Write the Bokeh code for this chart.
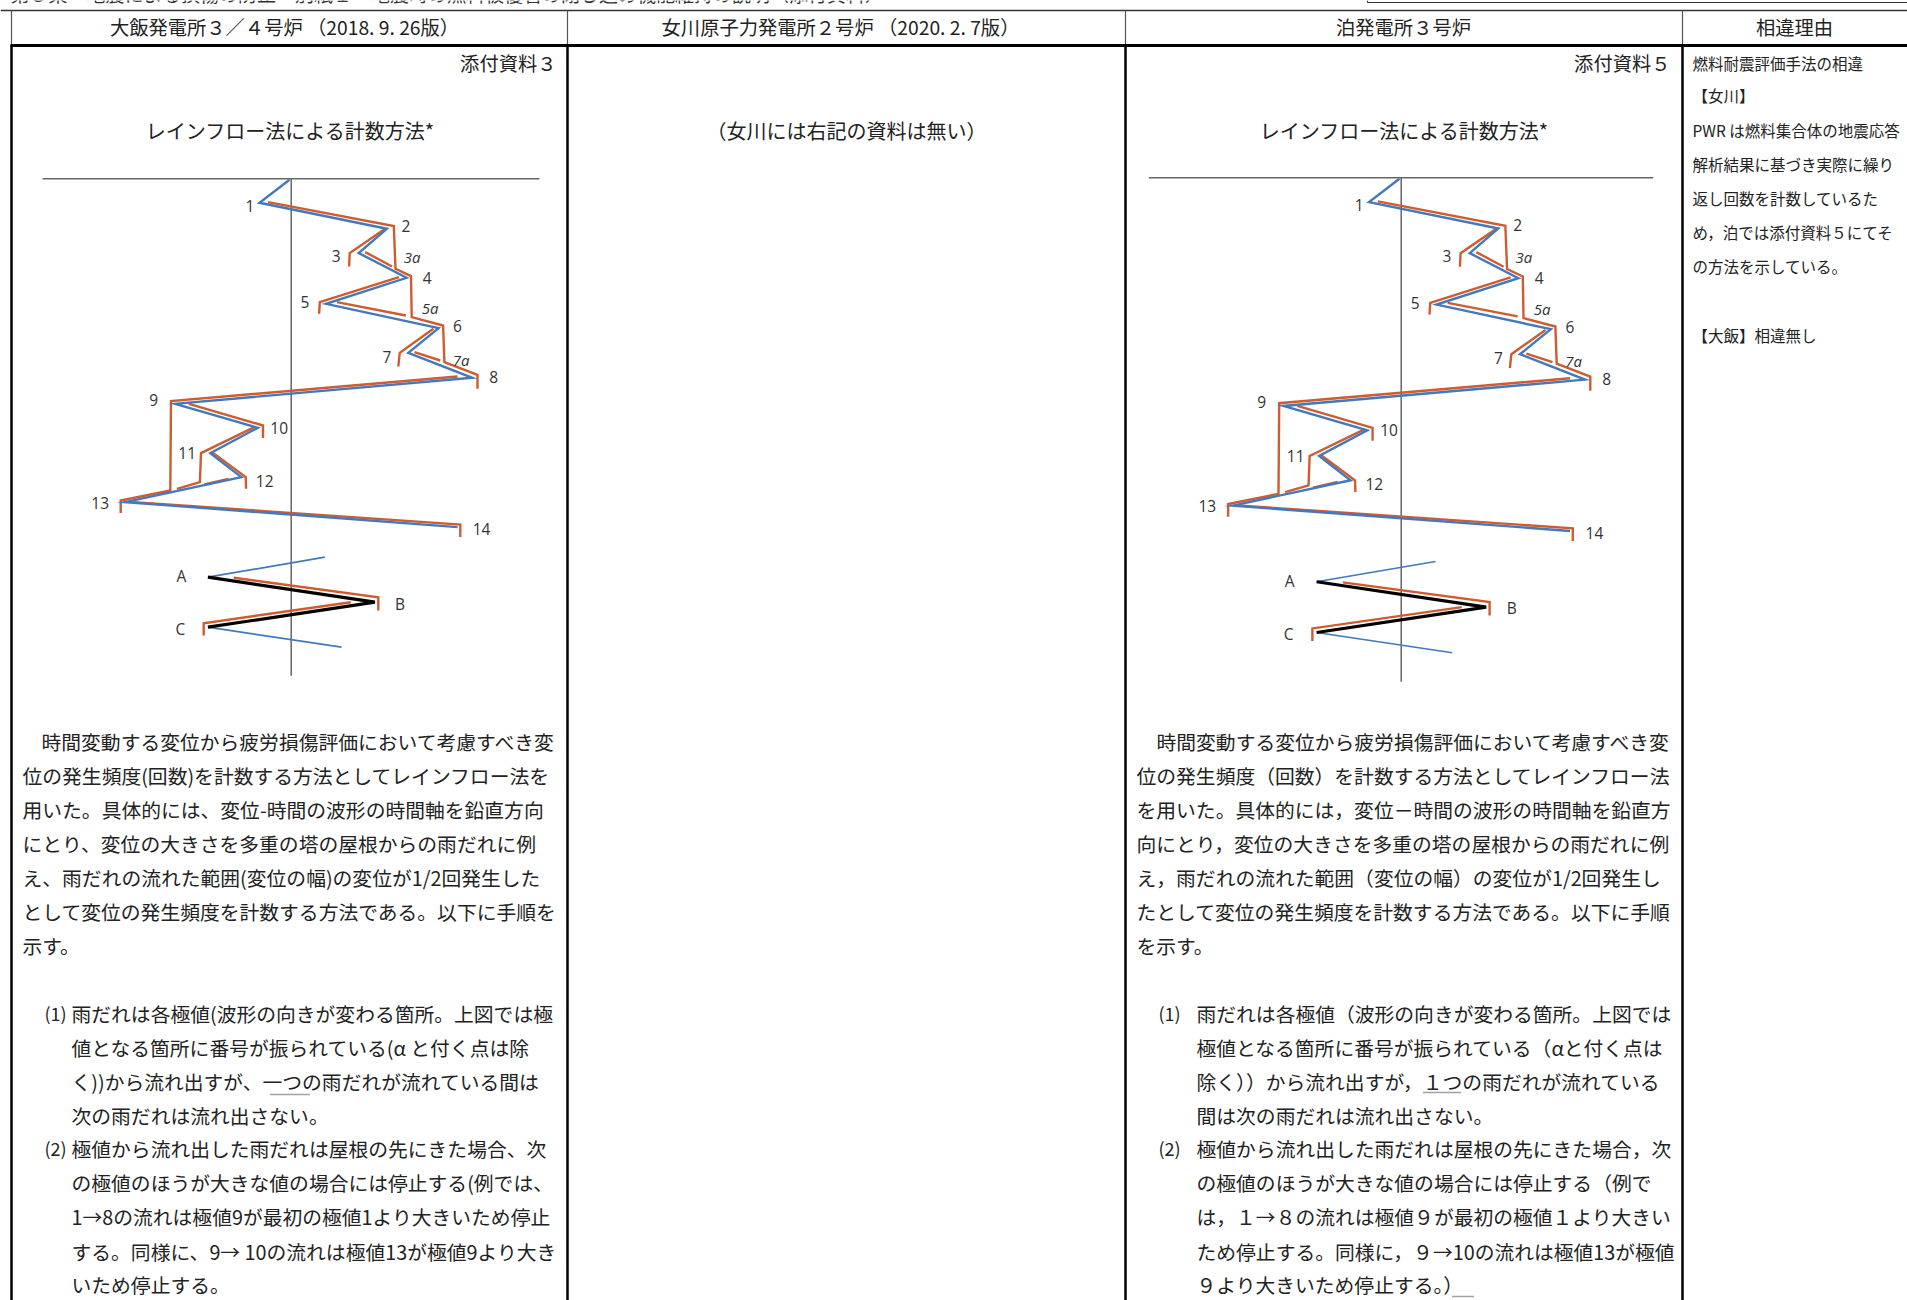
from bokeh.plotting import figure
from bokeh.models import Range1d, ColumnDataSource
from bokeh.core.properties import value
from bokeh.embed import file_html
from bokeh.resources import INLINE

# ---- rainflow waveform: displacement (right +) against time (down +)
wave_d = [-1.7, -31.7, 95.7, 67.5, 115.4, 34.8, 147.4, 117.1, 181.1, -116, -33.4, -80.9, -49.9, -166, 166.3]
wave_t = [1, 24, 50, 74.3, 99, 125, 149.3, 174, 199, 225, 249, 274.3, 298.3, 323.3, 348.3]

# ---- rain-drop flow paths (orange)
flow_d = [
    [-23.1, 102.6, 104.3, 119.8, 120.5, 151.9, 153.2, 186.3, 186.3],
    [94, 58.5, 57.9],
    [74, 100.9],
    [107.8, 28.6, 27.9],
    [45.8, 114.7],
    [142.2, 108.5, 107.1],
    [123.3, 149.1],
    [166.3, -120.2, -120.9, -170.5, -170.5],
    [-102.3, -28.2, -28.2],
    [-36.8, -90.2, -91.3, -114.3],
    [-79.2, -45.5, -45.1],
    [-62.7, -86.8],
    [-157.4, 169.1, 169.1],
    [-57.5, 87.1, 87.1],
    [59.6, -87.5, -87.5],
]
flow_t = [
    [23.3, 47.3, 90, 97.3, 138.3, 146.7, 183.3, 196, 210],
    [50, 74.3, 87.7],
    [73.3, 87.7],
    [98.3, 123.3, 135],
    [123.3, 136.7],
    [150, 174, 187.7],
    [173.3, 181.7],
    [197.7, 222.3, 311.7, 321.7, 334.3],
    [225, 246.7, 259.3],
    [248.3, 274.3, 303.3, 310],
    [273.3, 298.3, 310],
    [300, 305.7],
    [323.3, 345.7, 358.3],
    [399, 418.4, 431.7],
    [423.4, 444.4, 456.7],
]

# ---- lower A-B-C example
abc_blue_d = [[33.7, -83.3], [-83.3, 50.3]]
abc_blue_t = [[378.4, 398.4], [448.4, 468.4]]
abc_black_d = [-83.3, 83.7, -83.3]
abc_black_t = [398.4, 423.4, 448.4]

# ---- point labels
pt_labels = ["1", "2", "3", "4", "5", "6", "7", "8", "9", "10", "11", "12", "13", "14", "A", "B", "C"]
pt_d = [-41.3, 114.7, 45.1, 136, 13.8, 166.3, 95.7, 202.5, -137.4, -12, -104, -26.5, -191, 190.4, -109.8, 108.8, -110.9]
pt_t = [26.7, 46.7, 76.7, 99, 123.3, 146.7, 177.7, 198.3, 221, 249, 274, 302.3, 324, 350, 397.4, 424.7, 450]
alpha_labels = ["3a", "5a", "7a"]
alpha_d = [120.9, 138.8, 169.8]
alpha_t = [77.7, 129, 181]

# ---- document text (full-width forms written as escapes)
LP, RP, CM, SL, DS, SP = "\uFF08", "\uFF09", "\uFF0C", "\uFF0F", "\uFF0D", "\u3000"
N1, N2, N3, N4, N5, N8, N9 = "\uFF11", "\uFF12", "\uFF13", "\uFF14", "\uFF15", "\uFF18", "\uFF19"

page_title = f"第{N5}条{SP}地震による損傷の防止{SP}別紙{N1}{SP}地震時の燃料被覆管の閉じ込め機能維持の説明{LP}添付資料{RP}"
headers = [f"大飯発電所{N3}{SL}{N4}号炉 {LP}2018. 9. 26版{RP}",
           f"女川原子力発電所{N2}号炉 {LP}2020. 2. 7版{RP}",
           f"泊発電所{N3}号炉", "相違理由"]
header_x = [284, 840, 1403, 1794]
attach = [f"添付資料{N3}", f"添付資料{N5}"]
attach_x = [556, 1670]
titles = ["レインフロー法による計数方法*", f"{LP}女川には右記の資料は無い{RP}", "レインフロー法による計数方法*"]
titles_x = [290, 846, 1404]

ohi_lines = [
    "時間変動する変位から疲労損傷評価において考慮すべき変",
    "位の発生頻度(回数)を計数する方法としてレインフロー法を",
    "用いた。具体的には、変位-時間の波形の時間軸を鉛直方向",
    "にとり、変位の大きさを多重の塔の屋根からの雨だれに例",
    "え、雨だれの流れた範囲(変位の幅)の変位が1/2回発生した",
    "として変位の発生頻度を計数する方法である。以下に手順を",
    "示す。",
    "雨だれは各極値(波形の向きが変わる箇所。上図では極",
    "値となる箇所に番号が振られている(α と付く点は除",
    "く))から流れ出すが、一つの雨だれが流れている間は",
    "次の雨だれは流れ出さない。",
    "極値から流れ出した雨だれは屋根の先にきた場合、次",
    "の極値のほうが大きな値の場合には停止する(例では、",
    "1→8の流れは極値9が最初の極値1より大きいため停止",
    "する。同様に、9→ 10の流れは極値13が極値9より大き",
    "いため停止する。",
]
tomari_lines = [
    "時間変動する変位から疲労損傷評価において考慮すべき変",
    f"位の発生頻度{LP}回数{RP}を計数する方法としてレインフロー法",
    f"を用いた。具体的には{CM}変位{DS}時間の波形の時間軸を鉛直方",
    f"向にとり{CM}変位の大きさを多重の塔の屋根からの雨だれに例",
    f"え{CM}雨だれの流れた範囲{LP}変位の幅{RP}の変位が1/2回発生し",
    "たとして変位の発生頻度を計数する方法である。以下に手順",
    "を示す。",
    f"雨だれは各極値{LP}波形の向きが変わる箇所。上図では",
    f"極値となる箇所に番号が振られている{LP}αと付く点は",
    f"除く{RP}{RP}から流れ出すが{CM}{N1}つの雨だれが流れている",
    "間は次の雨だれは流れ出さない。",
    f"極値から流れ出した雨だれは屋根の先にきた場合{CM}次",
    f"の極値のほうが大きな値の場合には停止する{LP}例で",
    f"は{CM}{N1}→{N8}の流れは極値{N9}が最初の極値{N1}より大きい",
    f"ため停止する。同様に{CM}{N9}→10の流れは極値13が極値",
    f"{N9}より大きいため停止する。{RP}",
]
line_y = [740.5, 774.5, 808.5, 842.5, 876.5, 910.5, 944.5, 1012.5, 1046.5, 1080.5, 1114.5, 1147.5, 1181.5, 1215.5, 1250.5, 1283.5]
ohi_x = [41] + [22] * 6 + [71] * 9
tomari_x = [1156] + [1136] * 6 + [1196] * 9
enum_labels = ["(1)", "(2)"]
enum_y = [1012.5, 1147.5]

reason_lines = ["燃料耐震評価手法の相違", "【女川】", "PWR は燃料集合体の地震応答", "解析結果に基づき実際に繰り",
                "返し回数を計数しているた", f"め{CM}泊では添付資料{N5}にてそ", "の方法を示している。", "【大飯】相違無し"]
reason_y = [62.5, 94, 129, 163, 197.5, 231.5, 265.5, 334]
reason_x = [1692, 1692, 1692, 1692, 1692, 1692, 1692, 1692]

W, H = 1907, 1300
FONT = value("Noto Sans CJK JP")
LATIN = value("Open Sans")
INK = "#222222"
ORANGE = "#CF5B30"
BLUE = "#4279BC"

p = figure(width=W, height=H, x_range=Range1d(0, W), y_range=Range1d(H, 0),
           x_axis_location=None, y_axis_location=None, toolbar_location=None,
           output_backend="svg", min_border=0, outline_line_color=None,
           background_fill_color="white")
p.grid.visible = False

# panel scales: each drawing is the same figure placed and slightly resized
panels = {"ohi": (290.7, 178.3, 1.0, 1.0), "tomari": (1400.7, 177.3, 1.015, 1.014)}
for name, (ox, oy, sx, sy) in panels.items():
    p.extra_x_ranges[name] = Range1d((0 - ox) / sx, (W - ox) / sx)
    p.extra_y_ranges[name] = Range1d((H - oy) / sy, (0 - oy) / sy)


def texts(xs, ys, labels, size, align="left", font=FONT, color=INK, style="normal", **kw):
    src = ColumnDataSource(dict(x=xs, y=ys, t=labels))
    p.text("x", "y", text="t", source=src, text_font=font, text_font_size=size,
           text_align=align, text_baseline="middle", text_color=color,
           text_font_style=style, **kw)


# table rules
p.segment([0], [10], [W], [10], line_color="#333333", line_width=1.5)
p.segment([1367, 1367], [2, 0], [W, 1367], [2, 2], line_color="#333333", line_width=1.2)
p.segment([11, 567, 1125, 1682], [10] * 4, [11, 567, 1125, 1682], [45] * 4, line_color="#555555", line_width=1.2)
p.segment([10], [45], [W], [45], line_color="black", line_width=3)
p.segment([11, 567, 1125, 1682], [45] * 4, [11, 567, 1125, 1682], [H] * 4, line_color="black", line_width=2.5)

# drawings
for name in panels:
    kw = dict(x_range_name=name, y_range_name=name)
    p.segment([-248.6, 0], [0, 0], [248.3, 0], [0, 497], line_color="#666666", line_width=1.5, **kw)
    p.multi_line(flow_d, flow_t, line_color=ORANGE, line_width=2.4, line_join="miter", **kw)
    p.line(wave_d, wave_t, line_color=BLUE, line_width=2.4, line_join="miter", **kw)
    p.multi_line(abc_blue_d, abc_blue_t, line_color=BLUE, line_width=1.7, **kw)
    p.line(abc_black_d, abc_black_t, line_color="black", line_width=3.2, **kw)
    texts(pt_d, pt_t, pt_labels, "15.5px", align="center", font=LATIN, color="#333333", **kw)
    texts(alpha_d, alpha_t, alpha_labels, "15px", align="center", font=LATIN, color="#333333", style="italic", **kw)

# text
texts([10], [-7.5], [page_title], "19px", color="#333333")
texts(header_x, [26.5] * 4, headers, "19.3px", align="center")
texts(attach_x, [62, 62], attach, "19.3px", align="right")
texts(titles_x, [130] * 3, titles, "20px", align="center")
texts(ohi_x, line_y, ohi_lines, "19.8px")
texts(tomari_x, line_y, tomari_lines, "19.8px")
texts([44, 44], enum_y, enum_labels, "18px")
texts([1158, 1158], enum_y, enum_labels, "18px")
texts(reason_x, reason_y, reason_lines, "15.5px")

# wavy editorial underlines
p.segment([270, 1423, 1452], [1094, 1092, 1296], [309, 1461, 1474], [1094, 1092, 1296],
          line_color="#444444", line_width=1.5, line_dash="1 1")

open("out.html", "w").write(file_html(p, INLINE))
